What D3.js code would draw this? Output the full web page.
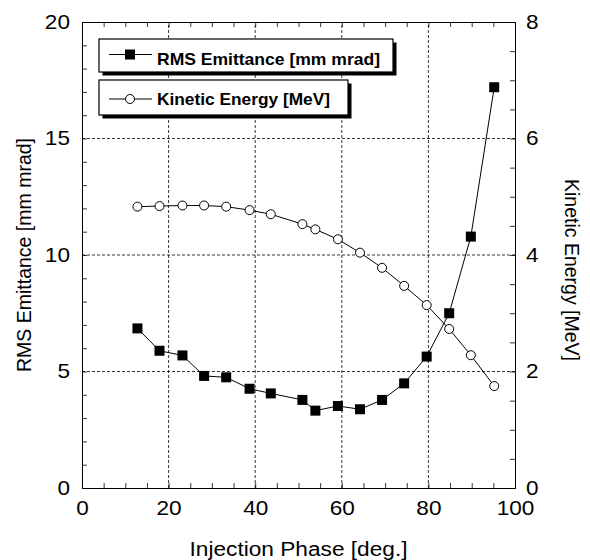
<!DOCTYPE html>
<html>
<head>
<meta charset="utf-8">
<script src="https://cdn.jsdelivr.net/npm/d3@7"></script>
<style>
  body { margin: 0; background: #fff; }
  text { font-family: "Liberation Sans", Arial, sans-serif; }
</style>
</head>
<body>
<div id="chart"></div>
<script>
// data
var phase = [12.8, 17.9, 23.2, 28.2, 33.3, 38.7, 43.6, 50.9, 53.9, 59.1, 64.2, 69.3, 74.4, 79.6, 84.8, 89.8, 95.2];
var emittance = [6.85, 5.89, 5.69, 4.81, 4.75, 4.26, 4.06, 3.78, 3.32, 3.52, 3.38, 3.78, 4.49, 5.64, 7.50, 10.79, 17.2];
var energy = [4.83, 4.84, 4.85, 4.85, 4.83, 4.77, 4.70, 4.53, 4.44, 4.27, 4.04, 3.78, 3.47, 3.14, 2.73, 2.28, 1.75];
var xTicks = [0, 20, 40, 60, 80, 100];
var yLeftTicks = [0, 5, 10, 15, 20];
var yRightTicks = [0, 2, 4, 6, 8];
var legendNames = ["RMS Emittance [mm mrad]", "Kinetic Energy [MeV]"];

var width = 590,
    height = 560,
    margin_left = 82,
    margin_right = 75,
    margin_top = 22,
    margin_bottom = 72,
    tick_len = 5,
    stretch = 1.13; // the labels in the picture are drawn a bit wide

var svg = d3.select("#chart").append("svg")
    .attr("width", width)
    .attr("height", height);

var x = d3.scaleLinear().domain([0, 100]).range([margin_left, width - margin_right]);
var yL = d3.scaleLinear().domain([0, 20]).range([height - margin_bottom, margin_top]);
var yR = d3.scaleLinear().domain([0, 8]).range([height - margin_bottom, margin_top]);

// dashed grid at major ticks
var grid = svg.append("g").attr("id", "grid");
xTicks.slice(1, -1).forEach(v => {
    grid.append("line")
        .attr("x1", x(v)).attr("x2", x(v))
        .attr("y1", yL(0)).attr("y2", yL(20))
        .attr("stroke", "black").attr("stroke-width", 0.8)
        .attr("stroke-dasharray", "3,2");
});
yLeftTicks.slice(1, -1).forEach(v => {
    grid.append("line")
        .attr("x1", x(0)).attr("x2", x(100))
        .attr("y1", yL(v)).attr("y2", yL(v))
        .attr("stroke", "black").attr("stroke-width", 0.8)
        .attr("stroke-dasharray", "3,2");
});

// axes (ticks pointing inward)
var xMinor = d3.range(0, 101, 5);
var yLMinor = d3.range(0, 21, 1);
var yRMinor = d3.range(0, 8.01, 0.5);

var fmt = d3.format("d");
var xAxisG = svg.append("g")
    .attr("transform", "translate(0," + yL(0) + ")")
    .call(d3.axisBottom(x).tickValues(xMinor).tickSize(-tick_len).tickPadding(13)
        .tickFormat(d => xTicks.indexOf(d) >= 0 ? fmt(d) : ""));
svg.append("g")
    .attr("transform", "translate(0," + yL(20) + ")")
    .call(d3.axisTop(x).tickValues(xMinor).tickSize(-tick_len).tickFormat(""));
var yLeftG = svg.append("g")
    .attr("transform", "translate(" + x(0) + ",0)")
    .call(d3.axisLeft(yL).tickValues(yLMinor).tickSize(-tick_len).tickPadding(12)
        .tickFormat(d => yLeftTicks.indexOf(d) >= 0 ? fmt(d) : ""));
var yRightG = svg.append("g")
    .attr("transform", "translate(" + x(100) + ",0)")
    .call(d3.axisRight(yR).tickValues(yRMinor).tickSize(-tick_len).tickPadding(11)
        .tickFormat(d => yRightTicks.indexOf(d) >= 0 ? fmt(d) : ""));

svg.selectAll(".tick text").attr("font-size", 20).attr("fill", "black")
    .attr("font-family", "'Liberation Sans', Arial, sans-serif");
// widen the tick labels, keeping their anchor in place
[xAxisG, yLeftG, yRightG].forEach(g => {
    g.selectAll(".tick text").each(function() {
        var t = d3.select(this);
        var tx = +t.attr("x") || 0;
        t.attr("x", tx / stretch).attr("transform", "scale(" + stretch + ",1)");
    });
});
svg.selectAll(".domain").attr("stroke", "black").attr("stroke-width", 1);
svg.selectAll(".tick line").attr("stroke", "black").attr("stroke-width", 0.8);

// axis titles
svg.append("text")
    .attr("x", (x(0) + x(100)) / 2).attr("y", 556)
    .attr("text-anchor", "middle").attr("font-size", 20)
    .attr("textLength", 218).attr("lengthAdjust", "spacingAndGlyphs")
    .text("Injection Phase [deg.]");
svg.append("text")
    .attr("transform", "translate(31," + yL(10) + ") rotate(-90)")
    .attr("text-anchor", "middle").attr("font-size", 19.5)
    .text("RMS Emittance [mm mrad]");
svg.append("text")
    .attr("transform", "translate(565,270) rotate(90)")
    .attr("text-anchor", "middle").attr("font-size", 19.5)
    .text("Kinetic Energy [MeV]");

// series
var lineL = d3.line().x((d, i) => x(phase[i])).y(d => yL(d));
var lineR = d3.line().x((d, i) => x(phase[i])).y(d => yR(d));

svg.append("path").attr("d", lineR(energy))
    .attr("fill", "none").attr("stroke", "black").attr("stroke-width", 1);
svg.append("path").attr("d", lineL(emittance))
    .attr("fill", "none").attr("stroke", "black").attr("stroke-width", 1);

svg.append("g").selectAll("circle").data(energy).join("circle")
    .attr("cx", (d, i) => x(phase[i])).attr("cy", d => yR(d))
    .attr("r", 4.5).attr("fill", "white").attr("stroke", "black").attr("stroke-width", 1);
svg.append("g").selectAll("rect").data(emittance).join("rect")
    .attr("x", (d, i) => x(phase[i]) - 5).attr("y", d => yL(d) - 5)
    .attr("width", 10).attr("height", 10).attr("fill", "black");

// legend boxes with drop shadow
var legendBoxes = [
    {y: 39, w: 294, h: 33, line: 54.5, base: 65, len: 223},
    {y: 80, w: 249, h: 35, line: 99, base: 105, len: 173}
];
var legend = svg.append("g").attr("id", "legend");
legendNames.forEach((name, i) => {
    var b = legendBoxes[i], lx = 99;
    legend.append("rect")
        .attr("x", lx + 3.5).attr("y", b.y + 3.5)
        .attr("width", b.w).attr("height", b.h).attr("fill", "black");
    legend.append("rect")
        .attr("x", lx).attr("y", b.y)
        .attr("width", b.w).attr("height", b.h)
        .attr("fill", "white").attr("stroke", "black").attr("stroke-width", 1.2);
    legend.append("line")
        .attr("x1", lx + 10).attr("x2", lx + 53)
        .attr("y1", b.line).attr("y2", b.line)
        .attr("stroke", "black").attr("stroke-width", 1);
    if (i == 0) {
        legend.append("rect").attr("x", lx + 26).attr("y", b.line - 5)
            .attr("width", 10).attr("height", 10).attr("fill", "black");
    } else {
        legend.append("circle").attr("cx", lx + 31).attr("cy", b.line).attr("r", 4.5)
            .attr("fill", "white").attr("stroke", "black");
    }
    legend.append("text")
        .attr("x", lx + 58).attr("y", b.base)
        .attr("font-size", 17).attr("font-weight", "bold")
        .attr("textLength", b.len).attr("lengthAdjust", "spacingAndGlyphs")
        .text(name);
});
</script>
</body>
</html>
